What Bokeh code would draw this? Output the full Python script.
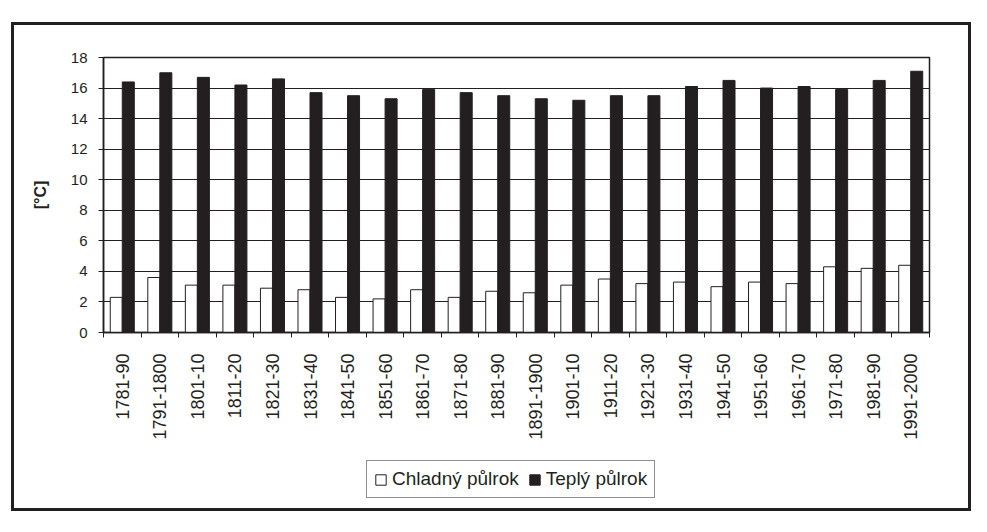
import math
from bokeh.plotting import figure
from bokeh.layouts import column
from bokeh.models import ColumnDataSource, Range1d, FixedTicker, Legend, LegendItem
from bokeh.transform import dodge
from bokeh.embed import file_html
from bokeh.resources import INLINE

categories = ["1781-90", "1791-1800", "1801-10", "1811-20", "1821-30", "1831-40",
              "1841-50", "1851-60", "1861-70", "1871-80", "1881-90", "1891-1900",
              "1901-10", "1911-20", "1921-30", "1931-40", "1941-50", "1951-60",
              "1961-70", "1971-80", "1981-90", "1991-2000"]
cold = [2.3, 3.6, 3.1, 3.1, 2.9, 2.8, 2.3, 2.2, 2.8, 2.3, 2.7,
        2.6, 3.1, 3.5, 3.2, 3.3, 3.0, 3.3, 3.2, 4.3, 4.2, 4.4]
warm = [16.4, 17.0, 16.7, 16.2, 16.6, 15.7, 15.5, 15.3, 15.9, 15.7, 15.5,
        15.3, 15.2, 15.5, 15.5, 16.1, 16.5, 16.0, 16.1, 15.9, 16.5, 17.1]
y_ticks = [0, 2, 4, 6, 8, 10, 12, 14, 16, 18]
series_names = ["Chladný půlrok", "Teplý půlrok"]
y_label = "[°C]"

INK = "#231f20"
FONT = "Liberation Sans"

n = len(categories)
xpos = [i + 0.5 for i in range(n)]
src = ColumnDataSource(dict(x=xpos, cold=cold, warm=warm, cat=categories))

# ---- main chart ----
p = figure(width=954, height=427, output_backend="svg", toolbar_location=None,
           x_range=Range1d(0, n), y_range=Range1d(y_ticks[0], y_ticks[-1]),
           min_border_left=89, min_border_right=39, min_border_top=32,
           min_border_bottom=120, background_fill_color="white",
           border_fill_color="white")

r1 = p.vbar(x=dodge("x", -0.16, range=p.x_range), top="cold", width=0.32, source=src,
            fill_color="white", line_color=INK, line_width=1)
r2 = p.vbar(x=dodge("x", 0.16, range=p.x_range), top="warm", width=0.32, source=src,
            fill_color=INK, line_color=INK, line_width=1)

xa = p.xaxis[0]
xa.ticker = FixedTicker(ticks=xpos, minor_ticks=list(range(n + 1)))
xa.major_label_overrides = {xv: c for xv, c in zip(xpos, categories)}
xa.major_label_orientation = math.pi / 2
xa.major_tick_line_color = None
xa.major_tick_out = 5
xa.major_tick_in = 0
xa.minor_tick_out = 5
xa.minor_tick_in = 0
xa.minor_tick_line_color = INK
xa.minor_tick_line_width = 1
xa.major_label_standoff = 16
xa.major_label_text_font = FONT
xa.major_label_text_font_size = "18px"
xa.major_label_text_color = INK
xa.axis_line_color = INK
xa.axis_line_width = 1.5

ya = p.yaxis[0]
ya.ticker = FixedTicker(ticks=y_ticks, minor_ticks=[])
ya.major_tick_out = 5
ya.major_tick_in = 0
ya.major_tick_line_color = INK
ya.major_label_standoff = 11
ya.major_label_text_font = FONT
ya.major_label_text_font_size = "15px"
ya.major_label_text_color = INK
ya.axis_line_color = INK
ya.axis_line_width = 1.5
ya.axis_label = y_label
ya.axis_label_text_font = FONT
ya.axis_label_text_font_style = "bold"
ya.axis_label_text_font_size = "16px"
ya.axis_label_text_color = INK
ya.axis_label_standoff = 19

p.xgrid.visible = False
p.ygrid.ticker = FixedTicker(ticks=y_ticks)
p.ygrid.grid_line_color = INK
p.ygrid.grid_line_width = 1
p.outline_line_color = INK
p.outline_line_width = 1.5

# ---- legend strip (same series, renderers hidden; only their legend keys show) ----
q = figure(width=954, height=56, output_backend="svg", toolbar_location=None,
           x_axis_location=None, y_axis_location=None,
           x_range=Range1d(0, n), y_range=Range1d(y_ticks[0], y_ticks[-1]),
           min_border=0, background_fill_color="white", border_fill_color="white")
q.grid.visible = False
q.outline_line_color = None
k1 = q.vbar(x="x", top="cold", width=0.32, source=src, fill_color="white",
            line_color=INK, line_width=1, visible=False)
k2 = q.vbar(x="x", top="warm", width=0.32, source=src, fill_color=INK,
            line_color=INK, line_width=1, visible=False)

legend = Legend(items=[LegendItem(label=series_names[0], renderers=[k1]),
                       LegendItem(label=series_names[1], renderers=[k2])],
                location=(263, 10), orientation="horizontal")
legend.border_line_color = INK
legend.border_line_width = 1
legend.background_fill_color = "white"
legend.background_fill_alpha = 1
legend.inactive_fill_alpha = 0
legend.padding = 7
legend.spacing = 9
legend.margin = 0
legend.glyph_width = 13
legend.glyph_height = 13
legend.label_standoff = 5
legend.label_text_font = FONT
legend.label_text_font_size = "19px"
legend.label_text_color = INK
q.add_layout(legend)

layout = column(p, q, spacing=0)
layout.styles = {"border": "3px solid " + INK, "box-sizing": "content-box",
                 "margin-left": "11px", "margin-top": "22px", "width": "954px"}

open("out.html", "w").write(file_html(layout, INLINE))
